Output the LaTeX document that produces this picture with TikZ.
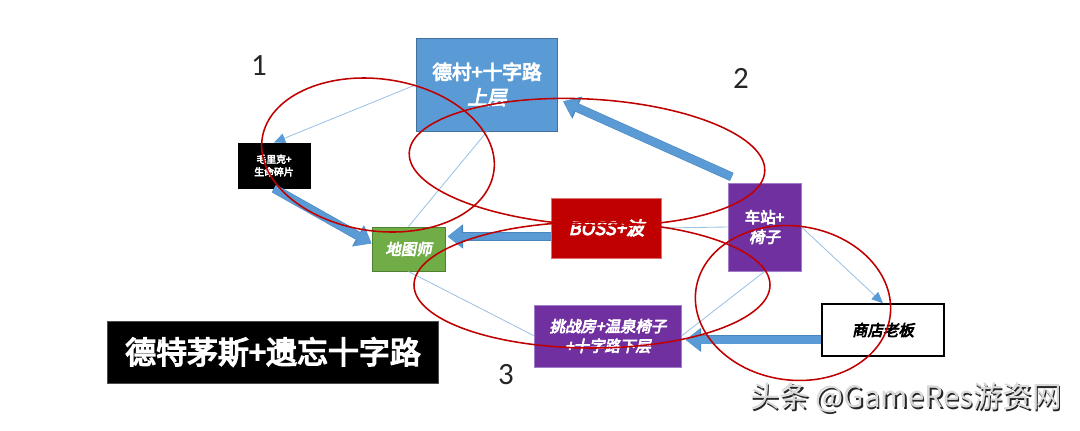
\documentclass[tikz,border=0pt]{standalone}
\usepackage{fontspec}
\setmainfont{Noto Sans CJK SC}
\newfontfamily\roomfont{Noto Sans CJK SC}[FakeBold=4.5, AutoFakeSlant=0.2]
\newfontfamily\numfont{Carlito}
\usetikzlibrary{arrows.meta}

\definecolor{boxblue}{HTML}{5B9BD5}
\definecolor{boxblueedge}{HTML}{41719C}
\definecolor{arrowedge}{HTML}{4A86BE}
\definecolor{linkblue}{HTML}{9DC3E6}
\definecolor{mapgreen}{HTML}{70AD47}
\definecolor{mapgreenedge}{HTML}{507E32}
\definecolor{bossred}{HTML}{C00000}
\definecolor{bossrededge}{HTML}{E07070}
\definecolor{roompurple}{HTML}{7030A0}
\definecolor{roompurpleedge}{HTML}{A07CC8}
\definecolor{ringred}{HTML}{C00000}

\begin{document}
\begin{tikzpicture}[x=0.025cm, y=-0.025cm,
    room/.style={rectangle, draw, line width=0.7pt, text=white, align=center,
                 inner sep=1pt, font=\roomfont\fontsize{11}{14}\selectfont},
    thinlink/.style={draw=linkblue, line width=0.6pt},
    thinarrow/.style={thinlink, -{Triangle[length=8pt,width=7pt,color=boxblue,fill=boxblue]}},
    bigarrow/.style={draw=boxblue, line width=5.5pt, -{Triangle[length=10pt,width=15pt]},
                     preaction={draw=arrowedge, line width=6.3pt, -{Triangle[length=11pt,width=16.5pt]}}},
    ring/.style={draw=ringred, line width=1.1pt},
    numlabel/.style={font=\numfont\fontsize{22}{24}\selectfont, text=black!85},
    watermark/.style={font=\fontsize{21}{24}\selectfont}
]
    \fill[white] (0,0) rectangle (1080,430);
    \useasboundingbox (0,0) rectangle (1080,430);

    % --- Rooms ---
    \node[room, fill=boxblue, draw=boxblueedge, minimum width=3.5cm, minimum height=2.325cm,
          font=\roomfont\fontsize{14}{18}\selectfont] (decun) at (487,84.5) {德村+十字路\\\itshape 上层};
    \node[room, fill=black, draw=black, minimum width=1.8cm, minimum height=1.125cm,
          font=\roomfont\fontsize{7}{9}\selectfont] (maoli) at (274,165.5) {毛里克+\\生命碎片};
    \node[room, fill=mapgreen, draw=mapgreenedge, minimum width=1.825cm, minimum height=1.1cm] (ditu) at (408.5,249) {\itshape 地图师};
    \node[room, fill=bossred, draw=bossrededge, minimum width=2.725cm, minimum height=1.5cm,
          font=\roomfont\fontsize{13}{16}\selectfont] (boss) at (606.5,228) {\itshape BOSS+波};
    \node[room, fill=roompurple, draw=roompurpleedge, minimum width=1.825cm, minimum height=2.2cm] (chezhan) at (764.5,227) {车站+\\\itshape 椅子};
    \node[room, fill=roompurple, draw=roompurpleedge, minimum width=3.65cm, minimum height=1.55cm] (tiaozhan) at (608,336) {\itshape 挑战房+温泉椅子\\\itshape +十字路下层};
    \node[room, fill=white, draw=black, line width=1.1pt, text=black, minimum width=3.05cm, minimum height=1.3cm] (shop) at (883,330) {\itshape 商店老板};

    % --- Title ---
    \node[room, fill=black, draw=black!70, minimum width=8.25cm, minimum height=1.55cm,
          font=\roomfont\fontsize{22}{24}\selectfont] (title) at (273,352) {德特茅斯+遗忘十字路};

    % --- Thin links ---
    \draw[thinarrow] (decun.west) -- (maoli.north);
    \draw[thinlink]  (decun.south) -- (ditu.north);
    \draw[thinlink]  (boss.east) -- (chezhan.west);
    \draw[thinarrow] (chezhan.east) -- (shop.north);
    \draw[thinlink]  (chezhan.south) -- (tiaozhan.east);
    \draw[thinlink]  (ditu.south) -- (tiaozhan.west);

    % --- Block arrows ---
    \coordinate (bossl) at ([yshift=-6pt]boss.west);
    \coordinate (shopl) at ([yshift=-7pt]shop.west);
    \draw[bigarrow] (maoli.south) -- ([yshift=4pt]ditu.west);
    \draw[bigarrow] ([xshift=3pt,yshift=4pt]chezhan.north west) -- ([xshift=4pt,yshift=-12pt]decun.east);
    \draw[bigarrow] (bossl) -- ([xshift=1.5pt]bossl -| ditu.east);
    \draw[bigarrow] (shopl) -- ([xshift=3pt]shopl -| tiaozhan.east);

    % --- Red rings ---
    \draw[ring] (378,155) ellipse [x radius=117, y radius=76, rotate=-8];
    \draw[ring] (587,162) ellipse [x radius=178, y radius=63, rotate=-3];
    \draw[ring] (592,285) ellipse [x radius=178, y radius=63];
    \draw[ring] (793,303) ellipse [x radius=98, y radius=77, rotate=-8];

    % --- Ring numbers ---
    \node[numlabel] (n1) at (259,66) {1};
    \node[numlabel] (n2) at (741,78) {2};
    \node[numlabel] (n3) at (506,375) {3};

    % --- Watermark ---
    \node[watermark, text=black!85] (markshade) at (907.5,399.5) {头条 @GameRes游资网};
    \node[watermark, text=gray!30] (wmark) at (906,398) {头条 @GameRes游资网};
\end{tikzpicture}
\end{document}
